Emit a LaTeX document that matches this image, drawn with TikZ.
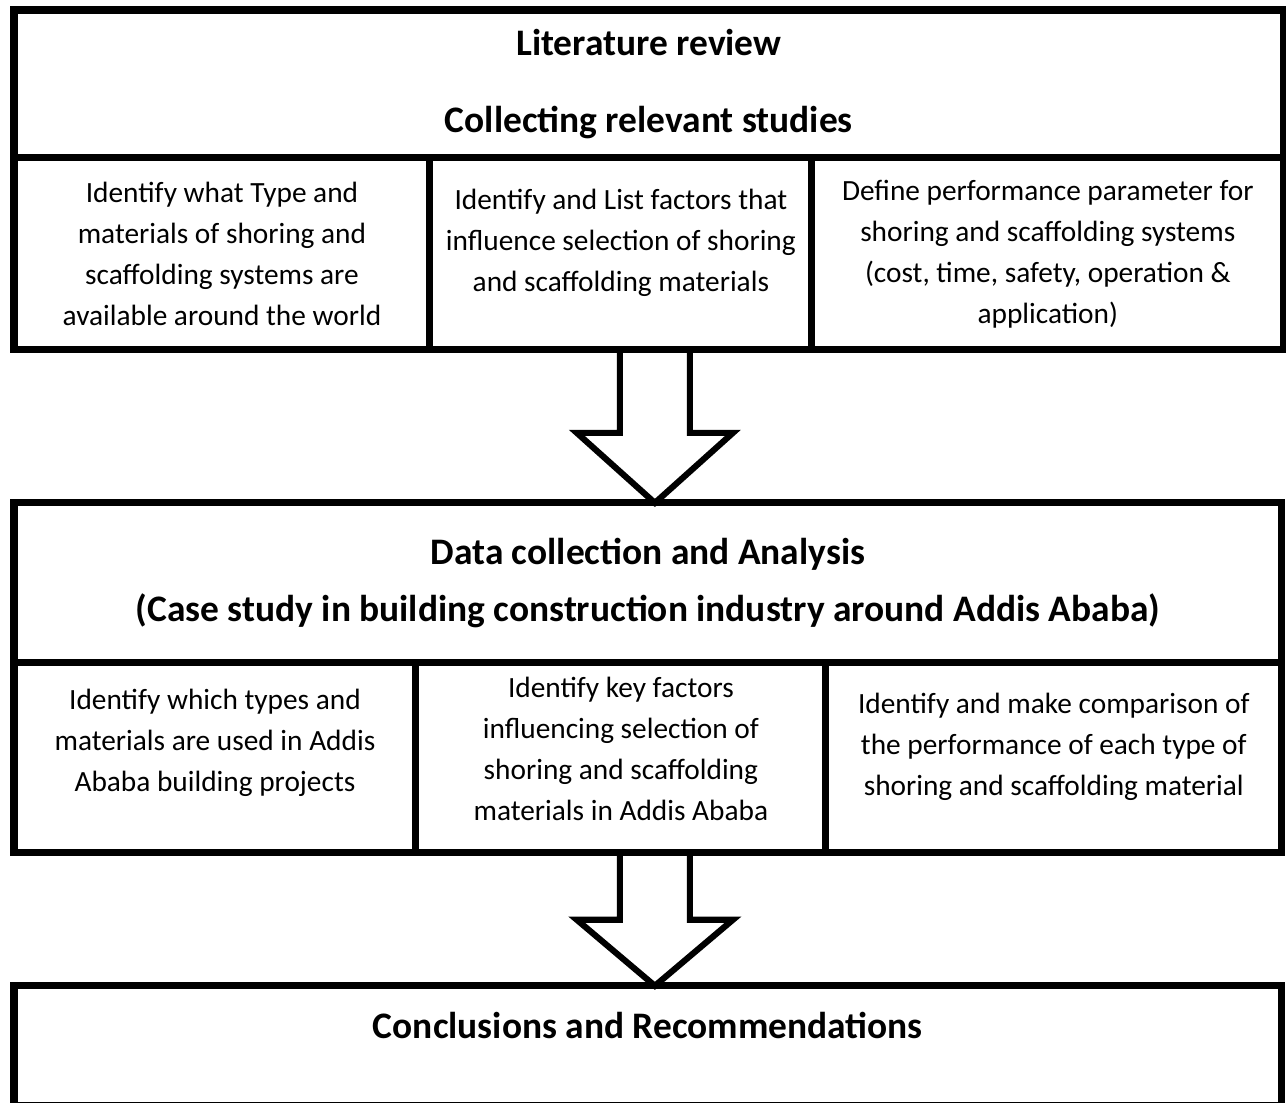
\documentclass[tikz,border=0pt]{standalone}
\usepackage{fontspec}
\setmainfont{Carlito}
\usetikzlibrary{positioning,calc}

\begin{document}
\begin{tikzpicture}[x=0.02cm,y=-0.02cm,font=\fontsize{16.7}{23.3}\selectfont]
        \tikzstyle{head}=[draw,line width=4pt,inner sep=0pt,outer sep=0pt,align=center,font=\fontsize{21.3}{44}\selectfont\bfseries]
        \tikzstyle{cell}=[draw,line width=4pt,inner sep=0pt,outer sep=0pt,align=center]
        \tikzstyle{hollow}=[draw,line width=3.5pt,line join=miter]
        \useasboundingbox (0,0) rectangle (1286,1103);
        % Literature review block
        \node[head,anchor=north west,minimum width=25.4cm,minimum height=2.96cm] (lit) at (14,10)
          {Literature review\\Collecting relevant studies};
        \node[cell,minimum width=8.32cm,minimum height=3.84cm,below=0pt of lit.south west,anchor=north west] (t1)
          {Identify what Type and\\materials of shoring and\\scaffolding systems are\\available around the world};
        \node[cell,minimum width=7.64cm,minimum height=3.84cm,text depth=0.56cm,right=0pt of t1.north east,anchor=north west] (t2)
          {Identify and List factors that\\influence selection of shoring\\and scaffolding materials};
        \node[cell,minimum width=9.44cm,minimum height=3.84cm,right=0pt of t2.north east,anchor=north west] (t3)
          {Define performance parameter for\\shoring and scaffolding systems\\(cost, time, safety, operation \&\\application)};
        % Data collection block
        \node[head,minimum width=25.36cm,minimum height=3.2cm,font=\fontsize{21.3}{32.4}\selectfont\bfseries,
              below=3.06cm of t1.south west,anchor=north west] (dat)
          {Data collection and Analysis\\(Case study in building construction industry around Addis Ababa)};
        \node[cell,minimum width=8.04cm,minimum height=3.8cm,text depth=0.7cm,below=0pt of dat.south west,anchor=north west] (d1)
          {Identify which types and\\materials are used in Addis\\Ababa building projects};
        \node[cell,minimum width=8.2cm,minimum height=3.8cm,text depth=0.35cm,right=0pt of d1.north east,anchor=north west] (d2)
          {Identify key factors\\influencing selection of\\shoring and scaffolding\\materials in Addis Ababa};
        \node[cell,minimum width=9.12cm,minimum height=3.8cm,text depth=0.55cm,right=0pt of d2.north east,anchor=north west] (d3)
          {Identify and make comparison of\\the performance of each type of\\shoring and scaffolding material};
        % Conclusions block
        \node[head,minimum width=25.36cm,minimum height=2.4cm,text depth=0.8cm,
              below=2.66cm of d1.south west,anchor=north west] (con)
          {Conclusions and Recommendations};
        % Block arrows between stages
        \coordinate (s1) at ([xshift=0.68cm]t2.south);
        \coordinate (e1) at (s1 |- dat.north);
        \coordinate (s2) at ([xshift=0.68cm]d2.south);
        \coordinate (e2) at (s2 |- con.north);
        \draw[hollow] ($(s1)+(-35,0)$) -- ($(e1)+(-35,-70)$) -- ($(e1)+(-78,-70)$) -- (e1)
          -- ($(e1)+(78,-70)$) -- ($(e1)+(35,-70)$) -- ($(s1)+(35,0)$);
        \draw[hollow] ($(s2)+(-35,0)$) -- ($(e2)+(-35,-66)$) -- ($(e2)+(-78,-66)$) -- (e2)
          -- ($(e2)+(78,-66)$) -- ($(e2)+(35,-66)$) -- ($(s2)+(35,0)$);
      \end{tikzpicture}
\end{document}
